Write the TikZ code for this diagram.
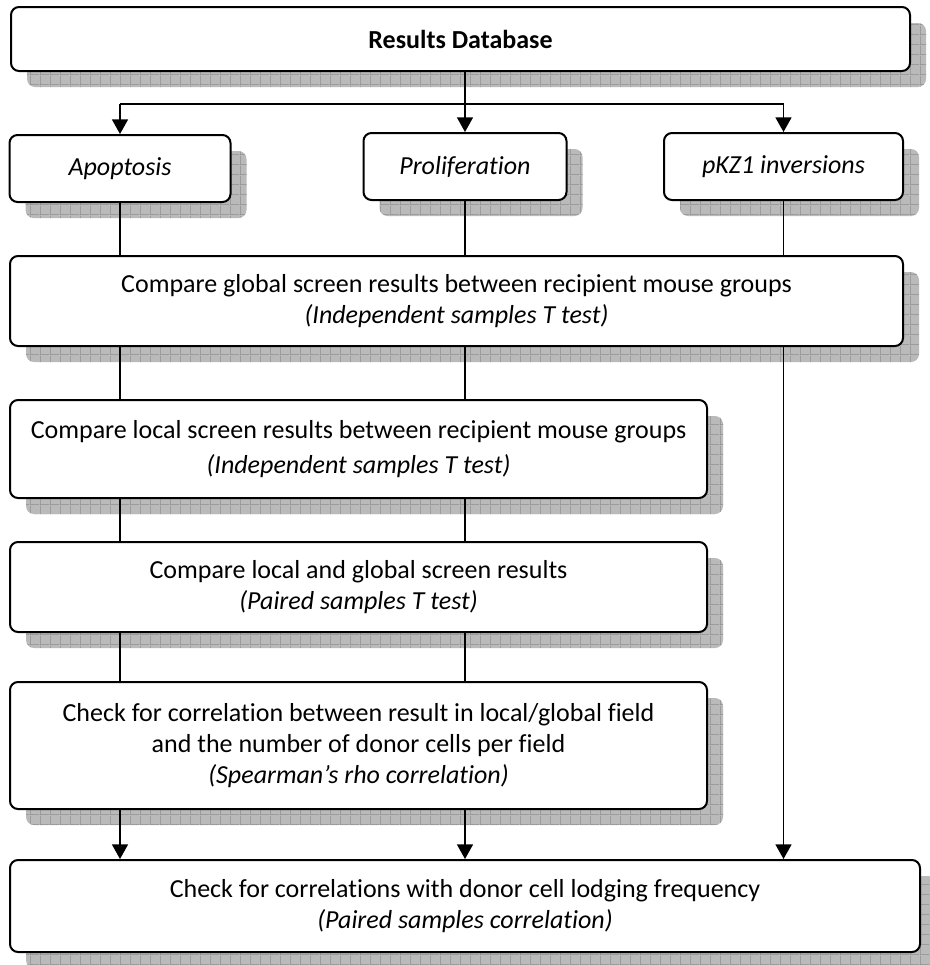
\documentclass[tikz,border=0pt]{standalone}
\usepackage{fontspec}
\setmainfont[Ligatures=NoCommon]{Carlito}
\usetikzlibrary{arrows.meta,shadows,patterns.meta}

\definecolor{shadegray}{RGB}{186,186,186}
\definecolor{gridgray}{RGB}{140,140,140}

\tikzdeclarepattern{
  name=shadegrid,
  type=uncolored,
  bottom left={(0pt,0pt)},
  top right={(7.5pt,7.5pt)},
  tile size={(7.5pt,7.5pt)},
  code={
    \draw[line width=0.5pt] (0pt,0.25pt) -- (7.5pt,0.25pt) (0.25pt,0pt) -- (0.25pt,7.5pt);
  }
}

\tikzset{every picture/.style={line width=0.75pt}}
\tikzset{
  flowbox/.style={draw, line width=1.5pt, rounded corners=6pt, fill=white, align=center, inner sep=0pt,
    font=\fontsize{19.5}{23}\selectfont,
    general shadow={shadow xshift=12pt, shadow yshift=-12pt, fill=shadegray},
    general shadow={shadow xshift=12pt, shadow yshift=-12pt, pattern={shadegrid}, pattern color=gridgray}},
  link/.style={line width=1.2pt},
  arrowlink/.style={link, -{Triangle[length=11pt,width=12pt]}},
}

\begin{document}
\begin{tikzpicture}[x=0.75pt,y=0.75pt,yscale=-1,xscale=1]
\useasboundingbox (0,0) rectangle (930,965);

%Results database
\node[flowbox, minimum width=674.25pt, minimum height=48pt] (db) at (460.5,39) {\textbf{Results Database}};
%Screens
\node[flowbox, minimum width=165.75pt, minimum height=50.25pt] (apop) at (120,168.5) {\textit{Apoptosis}};
\node[flowbox, minimum width=152.25pt, minimum height=50.25pt] (prolif) at (465,166.5) {\textit{Proliferation}};
\node[flowbox, minimum width=179.25pt, minimum height=50.25pt] (pkz) at (783.5,166.5) {\textit{pKZ1 inversions}};
%Tests
\node[flowbox, minimum width=669.75pt, minimum height=67.5pt] (global) at (456.5,301)
  {Compare global screen results between recipient mouse groups\\ \textit{(Independent samples T test)}};
\node[flowbox, minimum width=522.75pt, minimum height=73.5pt] (local) at (358.5,449)
  {Compare local screen results between recipient mouse groups\\[3pt] \textit{(Independent samples T test)}};
\node[flowbox, minimum width=522.75pt, minimum height=67.5pt] (paired) at (358.5,587)
  {Compare local and global screen results\\ \textit{(Paired samples T test)}};
\node[flowbox, minimum width=522.75pt, minimum height=95.25pt] (spear) at (358.5,745.5)
  {Check for correlation between result in local/global field\\ and the number of donor cells per field\\ \textit{(Spearman's rho correlation)}};
\node[flowbox, minimum width=682.5pt, minimum height=69pt] (final) at (465,906)
  {Check for correlations with donor cell lodging frequency\\ \textit{(Paired samples correlation)}};

%Split below database
\coordinate (split) at (465,104);
\draw[link] (db.south -| split) -- (split);
\draw[link] (split -| apop) -- (split -| pkz);
\draw[arrowlink] (split -| apop) -- (apop.north);
\draw[arrowlink] (split) -- (prolif.north);
\draw[arrowlink] (split -| pkz) -- (pkz.north);

%Screens to global
\draw[link] (apop.south) -- (apop.south |- global.north);
\draw[link] (prolif.south) -- (prolif.south |- global.north);
\draw[link] (pkz.south) -- (pkz.south |- global.north);

%Down the chain
\draw[link] (apop |- global.south) -- (apop |- local.north);
\draw[link] (prolif |- global.south) -- (prolif |- local.north);
\draw[link] (apop |- local.south) -- (apop |- paired.north);
\draw[link] (prolif |- local.south) -- (prolif |- paired.north);
\draw[link] (apop |- paired.south) -- (apop |- spear.north);
\draw[link] (prolif |- paired.south) -- (prolif |- spear.north);
\draw[arrowlink] (apop |- spear.south) -- (apop |- final.north);
\draw[arrowlink] (prolif |- spear.south) -- (prolif |- final.north);
\draw[arrowlink] (pkz |- global.south) -- (pkz |- final.north);

\end{tikzpicture}
\end{document}
